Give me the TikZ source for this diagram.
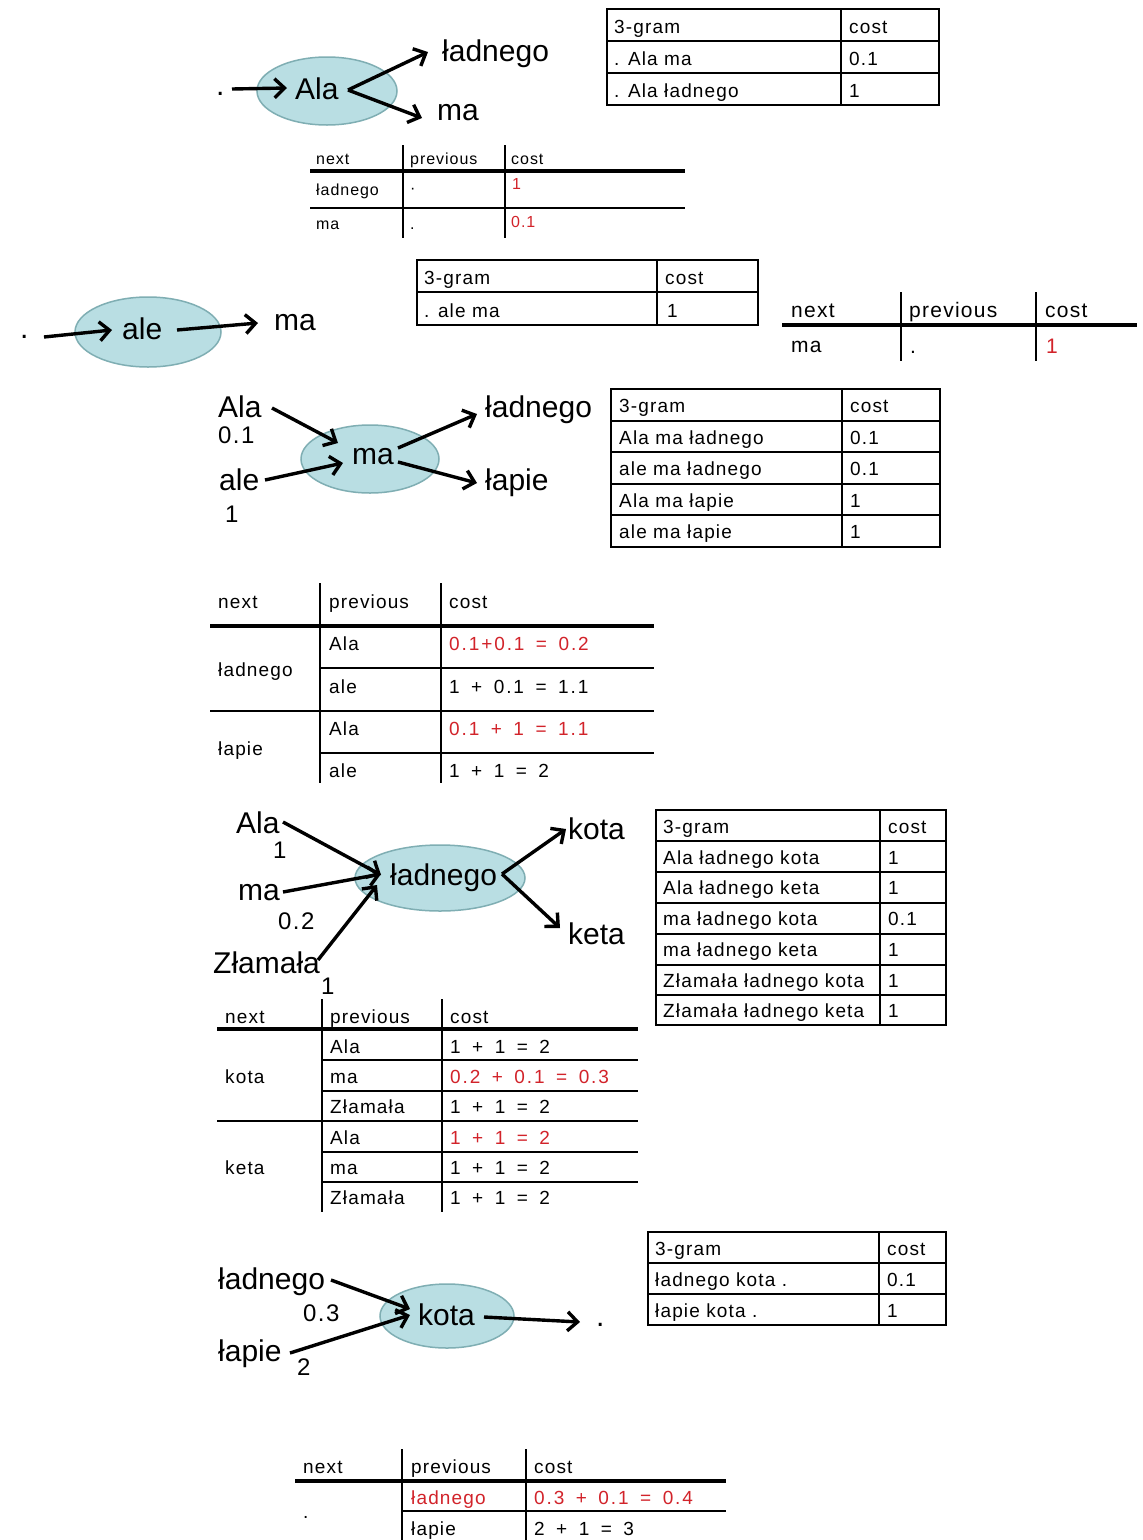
\documentclass[tikz,border=0pt]{standalone}
\usepackage{fontspec}
\setmainfont{Liberation Sans}
\newfontfamily\tabf[LetterSpace=6]{Liberation Sans}
\newfontfamily\costf[LetterSpace=10,WordSpace=1.6]{Liberation Sans}
\usetikzlibrary{arrows.meta,shapes.geometric}
\definecolor{ered}{HTML}{D2232A}
\definecolor{ellfill}{HTML}{B9DEE3}
\definecolor{elldraw}{HTML}{7FAEB3}
\tikzset{
  big/.style={inner sep=0pt, anchor=base west, font=\fontsize{30}{32}\selectfont},
  num/.style={inner sep=0pt, anchor=base west, font=\tabf\fontsize{24}{26}\selectfont},
  tx/.style={inner sep=0pt, anchor=base west, font=\tabf\fontsize{19}{22}\selectfont},
  cx/.style={inner sep=0pt, anchor=base west, font=\costf\fontsize{19}{22}\selectfont},
  txs/.style={inner sep=0pt, anchor=base west, font=\tabf\fontsize{16}{18}\selectfont},
  txl/.style={inner sep=0pt, anchor=base west, font=\tabf\fontsize{21}{24}\selectfont},
  ell/.style={ellipse, draw=elldraw, fill=ellfill, line width=1.5pt, inner sep=0pt},
  arr/.style={line width=3.4pt, -{Straight Barb[length=10pt,width=19pt]}},
  boxl/.style={line width=2pt},
  thinl/.style={line width=1.4pt},
  hdrl/.style={line width=4pt},
  vl/.style={line width=2pt}
}
\begin{document}
\begin{tikzpicture}[x=1pt,y=-1pt]
\fill[white] (0,0) rectangle (1143,1540);
\useasboundingbox (0,0) rectangle (1143,1540);

%% ---------- Section 1 ----------
\node[ell,minimum width=140,minimum height=68] (e1) at (327,91) {};
\node[big] (s1dot) at (216,95) {.};
\node[big] (s1ala) at (295,99) {Ala};
\node[big] (s1lad) at (442,61) {ładnego};
\node[big] (s1ma) at (437,120) {ma};
\coordinate (p1a) at (232,89); \coordinate (p1b) at (287,88);
\coordinate (p1c) at (348,90);
\coordinate (p1d) at (428,52); \coordinate (p1e) at (422,118);
\draw[arr] (p1a) -- (p1b);
\draw[arr] (p1c) -- (p1d);
\draw[arr] (p1c) -- (p1e);

% table 1
\draw[boxl] (607,9) rectangle (939,105);
\draw[boxl] (841,9) -- (841,105);
\foreach \y in {41,73} \draw[boxl] (607,\y) -- (939,\y);
\foreach \l/\r/\b [count=\i] in {3-gram/cost/33, . Ala ma/0.1/65, . Ala ładnego/1/97} {
  \node[tx] (taL\i) at (614,\b) {\l};
  \node[tx] (taR\i) at (849,\b) {\r};
}

% table 2
\draw[vl] (403,145) -- (403,238);
\draw[vl] (505,145) -- (505,238);
\draw[hdrl] (310,171) -- (685,171);
\draw[thinl] (310,208) -- (685,208);
\node[txs] (tbh1) at (316,164) {next};
\node[txs] (tbh2) at (410,164) {previous};
\node[txs] (tbh3) at (511,164) {cost};
\node[txs] (tb11) at (316,195) {ładnego};
\node[txs] (tb12) at (410,193) {·};
\node[txs,text=ered] (tb13) at (512,189) {1};
\node[txs] (tb21) at (316,229) {ma};
\node[txs] (tb22) at (410,229) {.};
\node[txs,text=ered] (tb23) at (511,227) {0.1};

%% ---------- Section 2 ----------
\node[ell,minimum width=146,minimum height=70] (e2) at (148,332) {};
\node[big] (s2dot) at (20,338) {.};
\node[big] (s2ale) at (122,339) {ale};
\node[big] (s2ma) at (274,330) {ma};
\coordinate (p2a) at (44,337); \coordinate (p2b) at (112,330);
\coordinate (p2c) at (177,330); \coordinate (p2d) at (258,323);
\draw[arr] (p2a) -- (p2b);
\draw[arr] (p2c) -- (p2d);

% table 3
\draw[boxl] (417,260) rectangle (758,325);
\draw[boxl] (657,260) -- (657,325);
\draw[boxl] (417,292) -- (758,292);
\node[tx] (tcL1) at (424,284) {3-gram};
\node[tx] (tcR1) at (665,284) {cost};
\node[tx] (tcL2) at (424,317) {. ale ma};
\node[tx] (tcR2) at (667,317) {1};

% table 4
\draw[vl] (901,292) -- (901,361);
\draw[vl] (1036,292) -- (1036,361);
\draw[hdrl] (782,325) -- (1137,325);
\node[txl] (tdh1) at (791,317) {next};
\node[txl] (tdh2) at (909,317) {previous};
\node[txl] (tdh3) at (1045,317) {cost};
\node[txl] (td11) at (791,352) {ma};
\node[txl] (td12) at (910,353) {.};
\node[txl,text=ered] (td13) at (1046,353) {1};

%% ---------- Section 3 ----------
\node[ell,minimum width=138,minimum height=68] (e3) at (370,459) {};
\node[big] (s3ala) at (218,417) {Ala};
\node[num] (s3n1) at (218,443) {0.1};
\node[big] (s3ale) at (219,490) {ale};
\node[num] (s3n2) at (225,522) {1};
\node[big] (s3ma) at (352,464) {ma};
\node[big] (s3lad) at (485,417) {ładnego};
\node[big] (s3lap) at (485,490) {łapie};
\coordinate (p3a) at (272,408); \coordinate (p3b) at (338,443);
\coordinate (p3c) at (265,480); \coordinate (p3d) at (343,463);
\coordinate (p3e) at (398,448); \coordinate (p3f) at (477,414);
\coordinate (p3g) at (398,462); \coordinate (p3h) at (477,483);
\draw[arr] (p3a) -- (p3b);
\draw[arr] (p3c) -- (p3d);
\draw[arr] (p3e) -- (p3f);
\draw[arr] (p3g) -- (p3h);

% table 5
\draw[boxl] (611,389) rectangle (940,547);
\draw[boxl] (842,389) -- (842,547);
\foreach \y in {421,452,484,515} \draw[boxl] (611,\y) -- (940,\y);
\foreach \l/\r/\b [count=\i] in {3-gram/cost/412, Ala ma ładnego/0.1/444, ale ma ładnego/0.1/475, Ala ma łapie/1/507, ale ma łapie/1/538} {
  \node[tx] (teL\i) at (619,\b) {\l};
  \node[tx] (teR\i) at (850,\b) {\r};
}

% table 6
\draw[vl] (320,583) -- (320,783);
\draw[vl] (441,583) -- (441,783);
\draw[hdrl] (210,626) -- (654,626);
\draw[thinl] (320,668) -- (654,668);
\draw[thinl] (210,711) -- (654,711);
\draw[thinl] (320,753) -- (654,753);
\node[tx] (tfh1) at (218,608) {next};
\node[tx] (tfh2) at (329,608) {previous};
\node[tx] (tfh3) at (449,608) {cost};
\node[tx] (tfn1) at (218,676) {ładnego};
\node[tx] (tfn2) at (218,755) {łapie};
\node[tx] (tfp1) at (329,650) {Ala};
\node[tx] (tfp2) at (329,693) {ale};
\node[tx] (tfp3) at (329,735) {Ala};
\node[tx] (tfp4) at (329,777) {ale};
\node[cx,text=ered] (tfc1) at (449,650) {0.1+0.1 = 0.2};
\node[cx] (tfc2) at (449,693) {1 + 0.1 = 1.1};
\node[cx,text=ered] (tfc3) at (449,735) {0.1 + 1 = 1.1};
\node[cx] (tfc4) at (449,777) {1 + 1 = 2};

%% ---------- Section 4 ----------
\node[ell,minimum width=170,minimum height=66] (e4) at (440,878) {};
\node[big] (s4ala) at (236,833) {Ala};
\node[num] (s4n1) at (273,858) {1};
\node[big] (s4ma) at (238,900) {ma};
\node[num] (s4n2) at (278,929) {0.2};
\node[big] (s4zla) at (213,973) {Złamała};
\node[num] (s4n3) at (321,994) {1};
\node[big] (s4lad) at (390,885) {ładnego};
\node[big] (s4kota) at (568,839) {kota};
\node[big] (s4keta) at (568,944) {keta};
\coordinate (p4a) at (283,822); \coordinate (p4b) at (381,875);
\coordinate (p4c) at (283,892); \coordinate (p4d) at (381,874);
\coordinate (p4e) at (318,960); \coordinate (p4f) at (377,885);
\coordinate (p4g) at (502,874);
\coordinate (p4h) at (566,829); \coordinate (p4i) at (560,928);
\draw[arr] (p4a) -- (p4b);
\draw[arr] (p4c) -- (p4d);
\draw[arr] (p4e) -- (p4f);
\draw[arr] (p4g) -- (p4h);
\draw[arr] (p4g) -- (p4i);

% table 7
\draw[boxl] (656,810) rectangle (946,1025);
\draw[boxl] (880,810) -- (880,1025);
\foreach \y in {841,872,903,934,965,995} \draw[boxl] (656,\y) -- (946,\y);
\foreach \l/\r/\b [count=\i] in {3-gram/cost/833, Ala ładnego kota/1/864, Ala ładnego keta/1/894, ma ładnego kota/0.1/925, ma ładnego keta/1/956, Złamała ładnego kota/1/987, Złamała ładnego keta/1/1017} {
  \node[tx] (tgL\i) at (663,\b) {\l};
  \node[tx] (tgR\i) at (888,\b) {\r};
}

% table 8
\draw[vl] (322,999) -- (322,1212);
\draw[vl] (442,999) -- (442,1212);
\draw[hdrl] (217,1029) -- (638,1029);
\foreach \y in {1060,1091,1152,1182} \draw[thinl] (322,\y) -- (638,\y);
\draw[thinl] (217,1121) -- (638,1121);
\node[tx] (thh1) at (225,1023) {next};
\node[tx] (thh2) at (330,1023) {previous};
\node[tx] (thh3) at (450,1023) {cost};
\node[tx] (thn1) at (225,1083) {kota};
\node[tx] (thn2) at (225,1174) {keta};
\foreach \p/\b [count=\i] in {Ala/1053, ma/1083, Złamała/1113, Ala/1144, ma/1174, Złamała/1204} {
  \node[tx] (thp\i) at (330,\b) {\p};
}
\node[cx] (thc1) at (450,1053) {1 + 1 = 2};
\node[cx,text=ered] (thc2) at (450,1083) {0.2 + 0.1 = 0.3};
\node[cx] (thc3) at (450,1113) {1 + 1 = 2};
\node[cx,text=ered] (thc4) at (450,1144) {1 + 1 = 2};
\node[cx] (thc5) at (450,1174) {1 + 1 = 2};
\node[cx] (thc6) at (450,1204) {1 + 1 = 2};

%% ---------- Section 5 ----------
\node[ell,minimum width=134,minimum height=64] (e5) at (447,1316) {};
\node[big] (s5lad) at (218,1289) {ładnego};
\node[num] (s5n1) at (303,1321) {0.3};
\node[big] (s5lap) at (218,1361) {łapie};
\node[num] (s5n2) at (297,1375) {2};
\node[big] (s5kota) at (418,1325) {kota};
\node[big] (s5dot) at (596,1326) {.};
\coordinate (p5a) at (331,1280); \coordinate (p5b) at (410,1309);
\coordinate (p5c) at (290,1353); \coordinate (p5d) at (410,1315);
\coordinate (p5e) at (484,1317); \coordinate (p5f) at (580,1322);
\draw[arr] (p5a) -- (p5b);
\draw[arr] (p5c) -- (p5d);
\draw[arr] (p5e) -- (p5f);

% table 9
\draw[boxl] (648,1232) rectangle (946,1325);
\draw[boxl] (879,1232) -- (879,1325);
\foreach \y in {1263,1294} \draw[boxl] (648,\y) -- (946,\y);
\foreach \l/\r/\b [count=\i] in {3-gram/cost/1255, ładnego kota ./0.1/1286, łapie kota ./1/1317} {
  \node[tx] (tiL\i) at (655,\b) {\l};
  \node[tx] (tiR\i) at (887,\b) {\r};
}

% table 10
\draw[vl] (402,1449) -- (402,1540);
\draw[vl] (526,1449) -- (526,1540);
\draw[hdrl] (295,1481) -- (726,1481);
\draw[thinl] (402,1511) -- (726,1511);
\node[tx] (tjh1) at (303,1473) {next};
\node[tx] (tjh2) at (411,1473) {previous};
\node[tx] (tjh3) at (534,1473) {cost};
\node[tx] (tjn1) at (303,1518) {.};
\node[tx,text=ered] (tjp1) at (411,1504) {ładnego};
\node[cx,text=ered] (tjc1) at (534,1504) {0.3 + 0.1 = 0.4};
\node[tx] (tjp2) at (411,1535) {łapie};
\node[cx] (tjc2) at (534,1535) {2 + 1 = 3};
\end{tikzpicture}
\end{document}
